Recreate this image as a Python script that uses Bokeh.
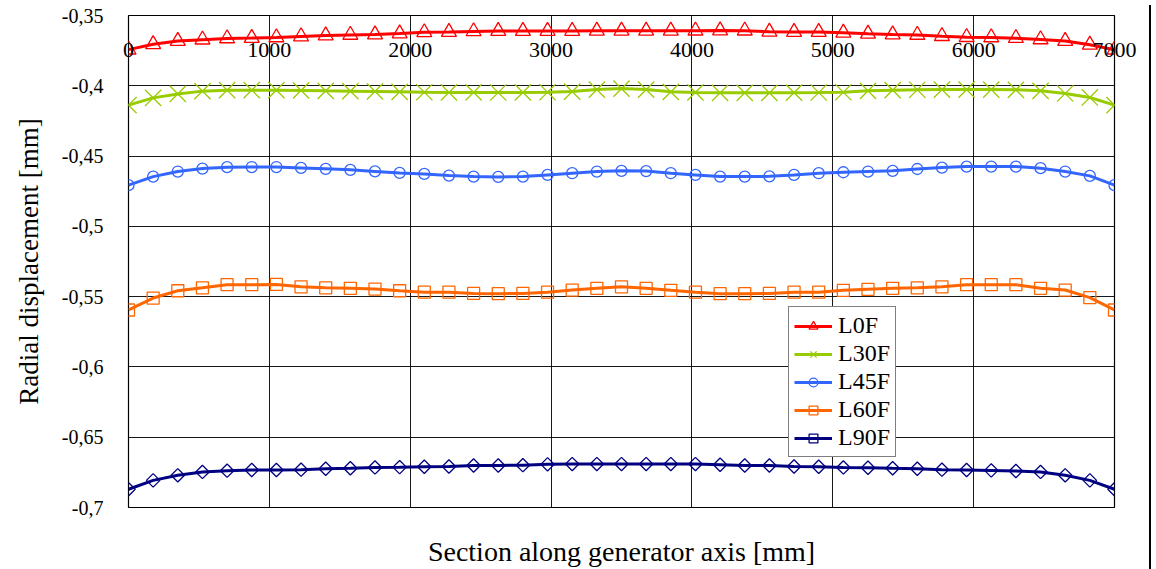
from bokeh.plotting import figure
from bokeh.models import (Range1d, FixedTicker, Legend, LegendItem, LinearAxis,
                          ColumnDataSource, Div)
from bokeh.layouts import row
from bokeh.embed import file_html
from bokeh.resources import INLINE
import numpy as np

# ---------------- data ----------------
x_mm = [0, 175, 350, 525, 700, 875, 1050, 1225, 1400, 1575, 1750, 1925, 2100,
        2275, 2450, 2625, 2800, 2975, 3150, 3325, 3500, 3675, 3850, 4025, 4200,
        4375, 4550, 4725, 4900, 5075, 5250, 5425, 5600, 5775, 5950, 6125, 6300,
        6475, 6650, 6825, 7000]

L0F = [-0.3743, -0.3705, -0.3682, -0.3672, -0.3663, -0.3660, -0.3656, -0.3649,
       -0.3642, -0.3638, -0.3635, -0.3628, -0.3620, -0.3618, -0.3613, -0.3611,
       -0.3611, -0.3610, -0.3610, -0.3609, -0.3609, -0.3609, -0.3609, -0.3608,
       -0.3607, -0.3608, -0.3616, -0.3618, -0.3618, -0.3623, -0.3630, -0.3635,
       -0.3638, -0.3647, -0.3654, -0.3656, -0.3661, -0.3670, -0.3682, -0.3708,
       -0.3743]

L30F = [-0.4138, -0.4086, -0.4058, -0.4038, -0.4031, -0.4031, -0.4031, -0.4033,
        -0.4036, -0.4038, -0.4040, -0.4043, -0.4046, -0.4047, -0.4047, -0.4048,
        -0.4047, -0.4046, -0.4041, -0.4027, -0.4020, -0.4027, -0.4043, -0.4047,
        -0.4050, -0.4050, -0.4050, -0.4049, -0.4048, -0.4046, -0.4036, -0.4031,
        -0.4028, -0.4027, -0.4027, -0.4027, -0.4029, -0.4036, -0.4055, -0.4083,
        -0.4138]

L45F = [-0.4707, -0.4646, -0.4610, -0.4589, -0.4579, -0.4578, -0.4578, -0.4584,
        -0.4591, -0.4598, -0.4609, -0.4620, -0.4627, -0.4639, -0.4646, -0.4648,
        -0.4646, -0.4634, -0.4622, -0.4610, -0.4605, -0.4607, -0.4622, -0.4634,
        -0.4646, -0.4646, -0.4644, -0.4634, -0.4622, -0.4615, -0.4610, -0.4605,
        -0.4592, -0.4582, -0.4575, -0.4575, -0.4575, -0.4586, -0.4610, -0.4641,
        -0.4707]

L60F = [-0.5595, -0.5510, -0.5458, -0.5437, -0.5415, -0.5415, -0.5413, -0.5430,
        -0.5437, -0.5441, -0.5446, -0.5458, -0.5468, -0.5468, -0.5477, -0.5479,
        -0.5477, -0.5468, -0.5453, -0.5441, -0.5430, -0.5441, -0.5455, -0.5468,
        -0.5479, -0.5479, -0.5477, -0.5468, -0.5468, -0.5455, -0.5448, -0.5441,
        -0.5437, -0.5430, -0.5415, -0.5415, -0.5415, -0.5441, -0.5453, -0.5507,
        -0.5595]

L90F = [-0.6870, -0.6807, -0.6771, -0.6747, -0.6738, -0.6733, -0.6733, -0.6731,
        -0.6724, -0.6721, -0.6715, -0.6713, -0.6710, -0.6708, -0.6701, -0.6701,
        -0.6699, -0.6693, -0.6691, -0.6691, -0.6691, -0.6691, -0.6691, -0.6691,
        -0.6696, -0.6701, -0.6701, -0.6708, -0.6710, -0.6715, -0.6717, -0.6721,
        -0.6724, -0.6731, -0.6733, -0.6736, -0.6740, -0.6747, -0.6771, -0.6807,
        -0.6870]

series_names = ["L0F", "L30F", "L45F", "L60F", "L90F"]
series_values = [L0F, L30F, L45F, L60F, L90F]
series_colors = ["#FF0000", "#99CC00", "#3366FF", "#FF6600", "#000080"]

x_ticks = [0, 1000, 2000, 3000, 4000, 5000, 6000, 7000]
x_tick_labels = ["0", "1000", "2000", "3000", "4000", "5000", "6000", "7000"]
y_ticks = [-0.7, -0.65, -0.6, -0.55, -0.5, -0.45, -0.4, -0.35]
y_tick_labels = ["-0,7", "-0,65", "-0,6", "-0,55", "-0,5", "-0,45", "-0,4", "-0,35"]

x_title = "Section along generator axis [mm]"
y_title = "Radial displacement [mm]"

FONT = "Liberation Serif"

# ---------------- figure ----------------
p = figure(width=1144, height=569, output_backend="svg", toolbar_location=None,
           x_range=Range1d(x_ticks[0], x_ticks[-1]),
           y_range=Range1d(y_ticks[0], y_ticks[-1]),
           min_border_left=128, min_border_right=30,
           min_border_top=15, min_border_bottom=60)
p.background_fill_color = "white"
p.border_fill_color = "white"
p.outline_line_color = "black"
p.outline_line_width = 1.2

# grid
p.xgrid.ticker = FixedTicker(ticks=x_ticks)
p.ygrid.ticker = FixedTicker(ticks=y_ticks)
for g in (p.xgrid, p.ygrid):
    g.grid_line_color = "black"
    g.grid_line_width = 1
    g.grid_line_alpha = 0.9

# bottom x axis: title only
xa = p.xaxis[0]
xa.ticker = FixedTicker(ticks=[])
xa.axis_line_color = None
xa.major_tick_line_color = None
xa.minor_tick_line_color = None
xa.axis_label = x_title
xa.axis_label_text_font = FONT
xa.axis_label_text_font_style = "normal"
xa.axis_label_text_font_size = "28px"
xa.axis_label_text_color = "black"
xa.axis_label_standoff = 28

# x tick labels: top axis whose labels are pushed down inside the frame
xtop = LinearAxis(ticker=FixedTicker(ticks=x_ticks))
xtop.major_label_overrides = {t: s for t, s in zip(x_ticks, x_tick_labels)}
xtop.axis_line_color = None
xtop.major_tick_line_color = None
xtop.minor_tick_line_color = None
xtop.major_label_standoff = -47
xtop.major_label_text_font = FONT
xtop.major_label_text_font_size = "22px"
xtop.major_label_text_color = "black"
p.add_layout(xtop, "above")

# y axis
ya = p.yaxis[0]
ya.ticker = FixedTicker(ticks=y_ticks)
ya.major_label_overrides = {t: s for t, s in zip(y_ticks, y_tick_labels)}
ya.axis_line_color = None
ya.major_tick_line_color = None
ya.minor_tick_line_color = None
ya.major_label_standoff = 19
ya.major_label_text_font = FONT
ya.major_label_text_font_size = "20px"
ya.major_label_text_color = "black"
ya.axis_label = y_title
ya.axis_label_text_font = FONT
ya.axis_label_text_font_style = "normal"
ya.axis_label_text_font_size = "27px"
ya.axis_label_text_color = "black"
ya.axis_label_standoff = 15

# series
markers = [
    dict(marker="triangle", size=15, angle=0.0),
    dict(marker="x", size=23, angle=0.0),
    dict(marker="circle", size=11, angle=0.0),
    dict(marker="square", size=12, angle=0.0),
    dict(marker="square", size=9.5, angle=np.pi / 4),
]
items = []
for name, vals, col, mk in zip(series_names, series_values, series_colors, markers):
    src = ColumnDataSource(dict(x=x_mm, y=vals))
    ln = p.line("x", "y", source=src, line_color=col, line_width=3)
    sc = p.scatter("x", "y", source=src, marker=mk["marker"], size=mk["size"],
                   angle=mk["angle"], line_color=col, fill_color=None,
                   line_width=1.3)
    items.append(LegendItem(label=name, renderers=[ln, sc]))

legend = Legend(items=items, location=(660, 50))
legend.border_line_color = "black"
legend.border_line_width = 1
legend.background_fill_color = "white"
legend.background_fill_alpha = 1
legend.label_text_font = FONT
legend.label_text_font_size = "24px"
legend.label_text_color = "black"
legend.glyph_width = 38
legend.glyph_height = 22
legend.label_height = 22
legend.label_standoff = 6
legend.padding = 5
legend.spacing = 1
legend.margin = 0
p.add_layout(legend)

edge = Div(text="", width=2, height=569,
           styles={"background-color": "black"})

layout = row(p, edge)
open("out.html", "w").write(file_html(layout, INLINE))
